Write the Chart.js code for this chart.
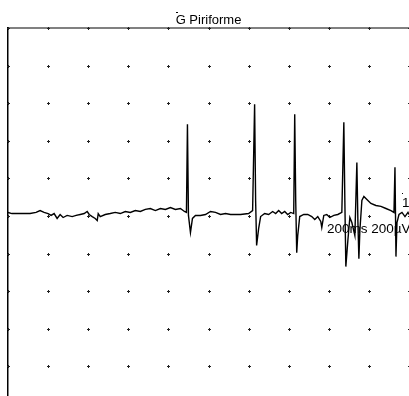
<!DOCTYPE html>
<html>
<head>
<meta charset="utf-8">
<script src="https://cdn.jsdelivr.net/npm/chart.js@4.4.1/dist/chart.umd.min.js"></script>
<style>
  html, body { margin: 0; padding: 0; background: #fff; overflow: hidden; }
  #wrap { width: 409px; height: 404px; position: relative; }
</style>
</head>
<body>
<div id="wrap"><canvas id="myChart"></canvas></div>
<script>
// time in ms, amplitude in µV (200 ms / div, 200 µV / div)
var timeMs = [0, 20, 60, 110, 140, 160, 180, 200, 215, 230, 245, 260, 275, 295, 320, 340, 360, 380, 395, 405,
  420, 435, 445, 450, 460, 485, 510, 535, 560, 585, 610, 635, 660, 685, 710, 735, 760, 785, 810, 835,
  860, 880, 890, 895, 900, 910, 920, 935, 960, 985, 1010, 1035, 1060, 1085, 1110, 1160, 1200, 1220, 1230, 1235,
  1240, 1250, 1260, 1280, 1300, 1320, 1335, 1350, 1365, 1380, 1395, 1410, 1425, 1430, 1435, 1440, 1445, 1455, 1475, 1495,
  1515, 1530, 1545, 1560, 1565, 1575, 1590, 1605, 1625, 1645, 1665, 1675, 1680, 1685, 1695, 1705, 1715, 1730, 1740, 1745,
  1750, 1755, 1765, 1775, 1790, 1810, 1835, 1860, 1885, 1910, 1925, 1930, 1935, 1940, 1950, 1965, 1980, 1995, 2000];
var amplitudeUv = [19, 13, 13, 13, 19, 29, 19, 13, 3, 13, -13, 8, -8, 3, -3, 3, 8, 13, 24, 8,
  -3, -13, -24, 13, -3, 8, 13, 19, 13, 24, 19, 29, 24, 35, 40, 29, 40, 35, 45, 35,
  40, 24, 19, 488, 3, -88, -13, 3, 3, 8, 24, 19, 8, 13, 8, 8, 13, 29, 595, 83,
  -157, -67, -3, 13, 8, 24, 13, 29, 13, 24, 8, 19, 13, 541, 83, -195, -104, -3, 8, 8,
  -3, -19, -3, -29, -61, 3, 8, -8, 3, 8, 19, 499, 83, -269, -131, -8, -35, -104, 285, -24,
  -227, -77, 83, 104, 88, 67, 56, 51, 40, 29, 19, 259, -216, -35, 8, 19, -3, 19, 8];

var xTicks = [0, 200, 400, 600, 800, 1000, 1200, 1400, 1600, 1800, 2000];
var yTicks = [-1000, -800, -600, -400, -200, 0, 200, 400, 600, 800, 1000];

var chartTitle = "G Piriforme";
var scaleLabel = "200ms 200µV";
var channelLabel = "1";

var points = timeMs.map(function (t, i) { return { x: t, y: amplitudeUv[i] }; });

var gridPlugin = {
  id: 'emgGrid',
  beforeDatasetsDraw: function (chart) {
    var ctx = chart.ctx;
    var xs = chart.scales.x, ys = chart.scales.y;
    var area = chart.chartArea;
    ctx.save();
    // top border line
    ctx.fillStyle = '#808080';
    ctx.fillRect(area.left - 1, area.top - 1, area.right - area.left + 1, 2);
    // left axis
    ctx.fillStyle = '#000';
    ctx.fillRect(area.left - 1, area.top - 1, 1.5, chart.height);
    // dot grid
    ctx.fillStyle = '#222';
    xTicks.forEach(function (xv) {
      yTicks.forEach(function (yv) {
        var px = Math.round(xs.getPixelForValue(xv));
        var py = Math.round(ys.getPixelForValue(yv));
        ctx.fillRect(px - 1, py, 3, 1);
        ctx.fillRect(px, py - 1, 1, 3);
      });
    });
    ctx.restore();
  },
  afterDraw: function (chart) {
    var ctx = chart.ctx;
    ctx.save();
    ctx.fillStyle = '#000';
    ctx.font = '13.5px "Liberation Sans", Arial, sans-serif';
    ctx.textBaseline = 'alphabetic';
    ctx.fillText(scaleLabel, 327, 233);
    ctx.fillText(channelLabel, 402, 207);
    ctx.fillRect(402, 193, 1, 1);
    ctx.fillRect(176, 12, 2, 1);
    ctx.restore();
  }
};

var ctx = document.getElementById("myChart").getContext('2d');

var myChart = new Chart(ctx, {
  type: 'line',
  data: {
    datasets: [{
      data: points,
      borderColor: '#000',
      borderWidth: 1.4,
      pointRadius: 0,
      tension: 0,
      fill: false
    }]
  },
  options: {
    responsive: true,
    maintainAspectRatio: false,
    animation: false,
    layout: { padding: { left: 8, right: 0, top: 0, bottom: 0 } },
    plugins: {
      legend: { display: false },
      tooltip: { enabled: false },
      title: {
        display: true,
        text: chartTitle,
        color: '#000',
        font: { family: '"Liberation Sans", Arial, sans-serif', size: 13, weight: 'normal', lineHeight: 1 },
        padding: { top: 14, bottom: 1 }
      }
    },
    scales: {
      x: { type: 'linear', min: 0, max: 2000, display: false },
      y: { type: 'linear', min: -1000, max: 1000, display: false }
    }
  },
  plugins: [gridPlugin]
});
</script>
</body>
</html>
